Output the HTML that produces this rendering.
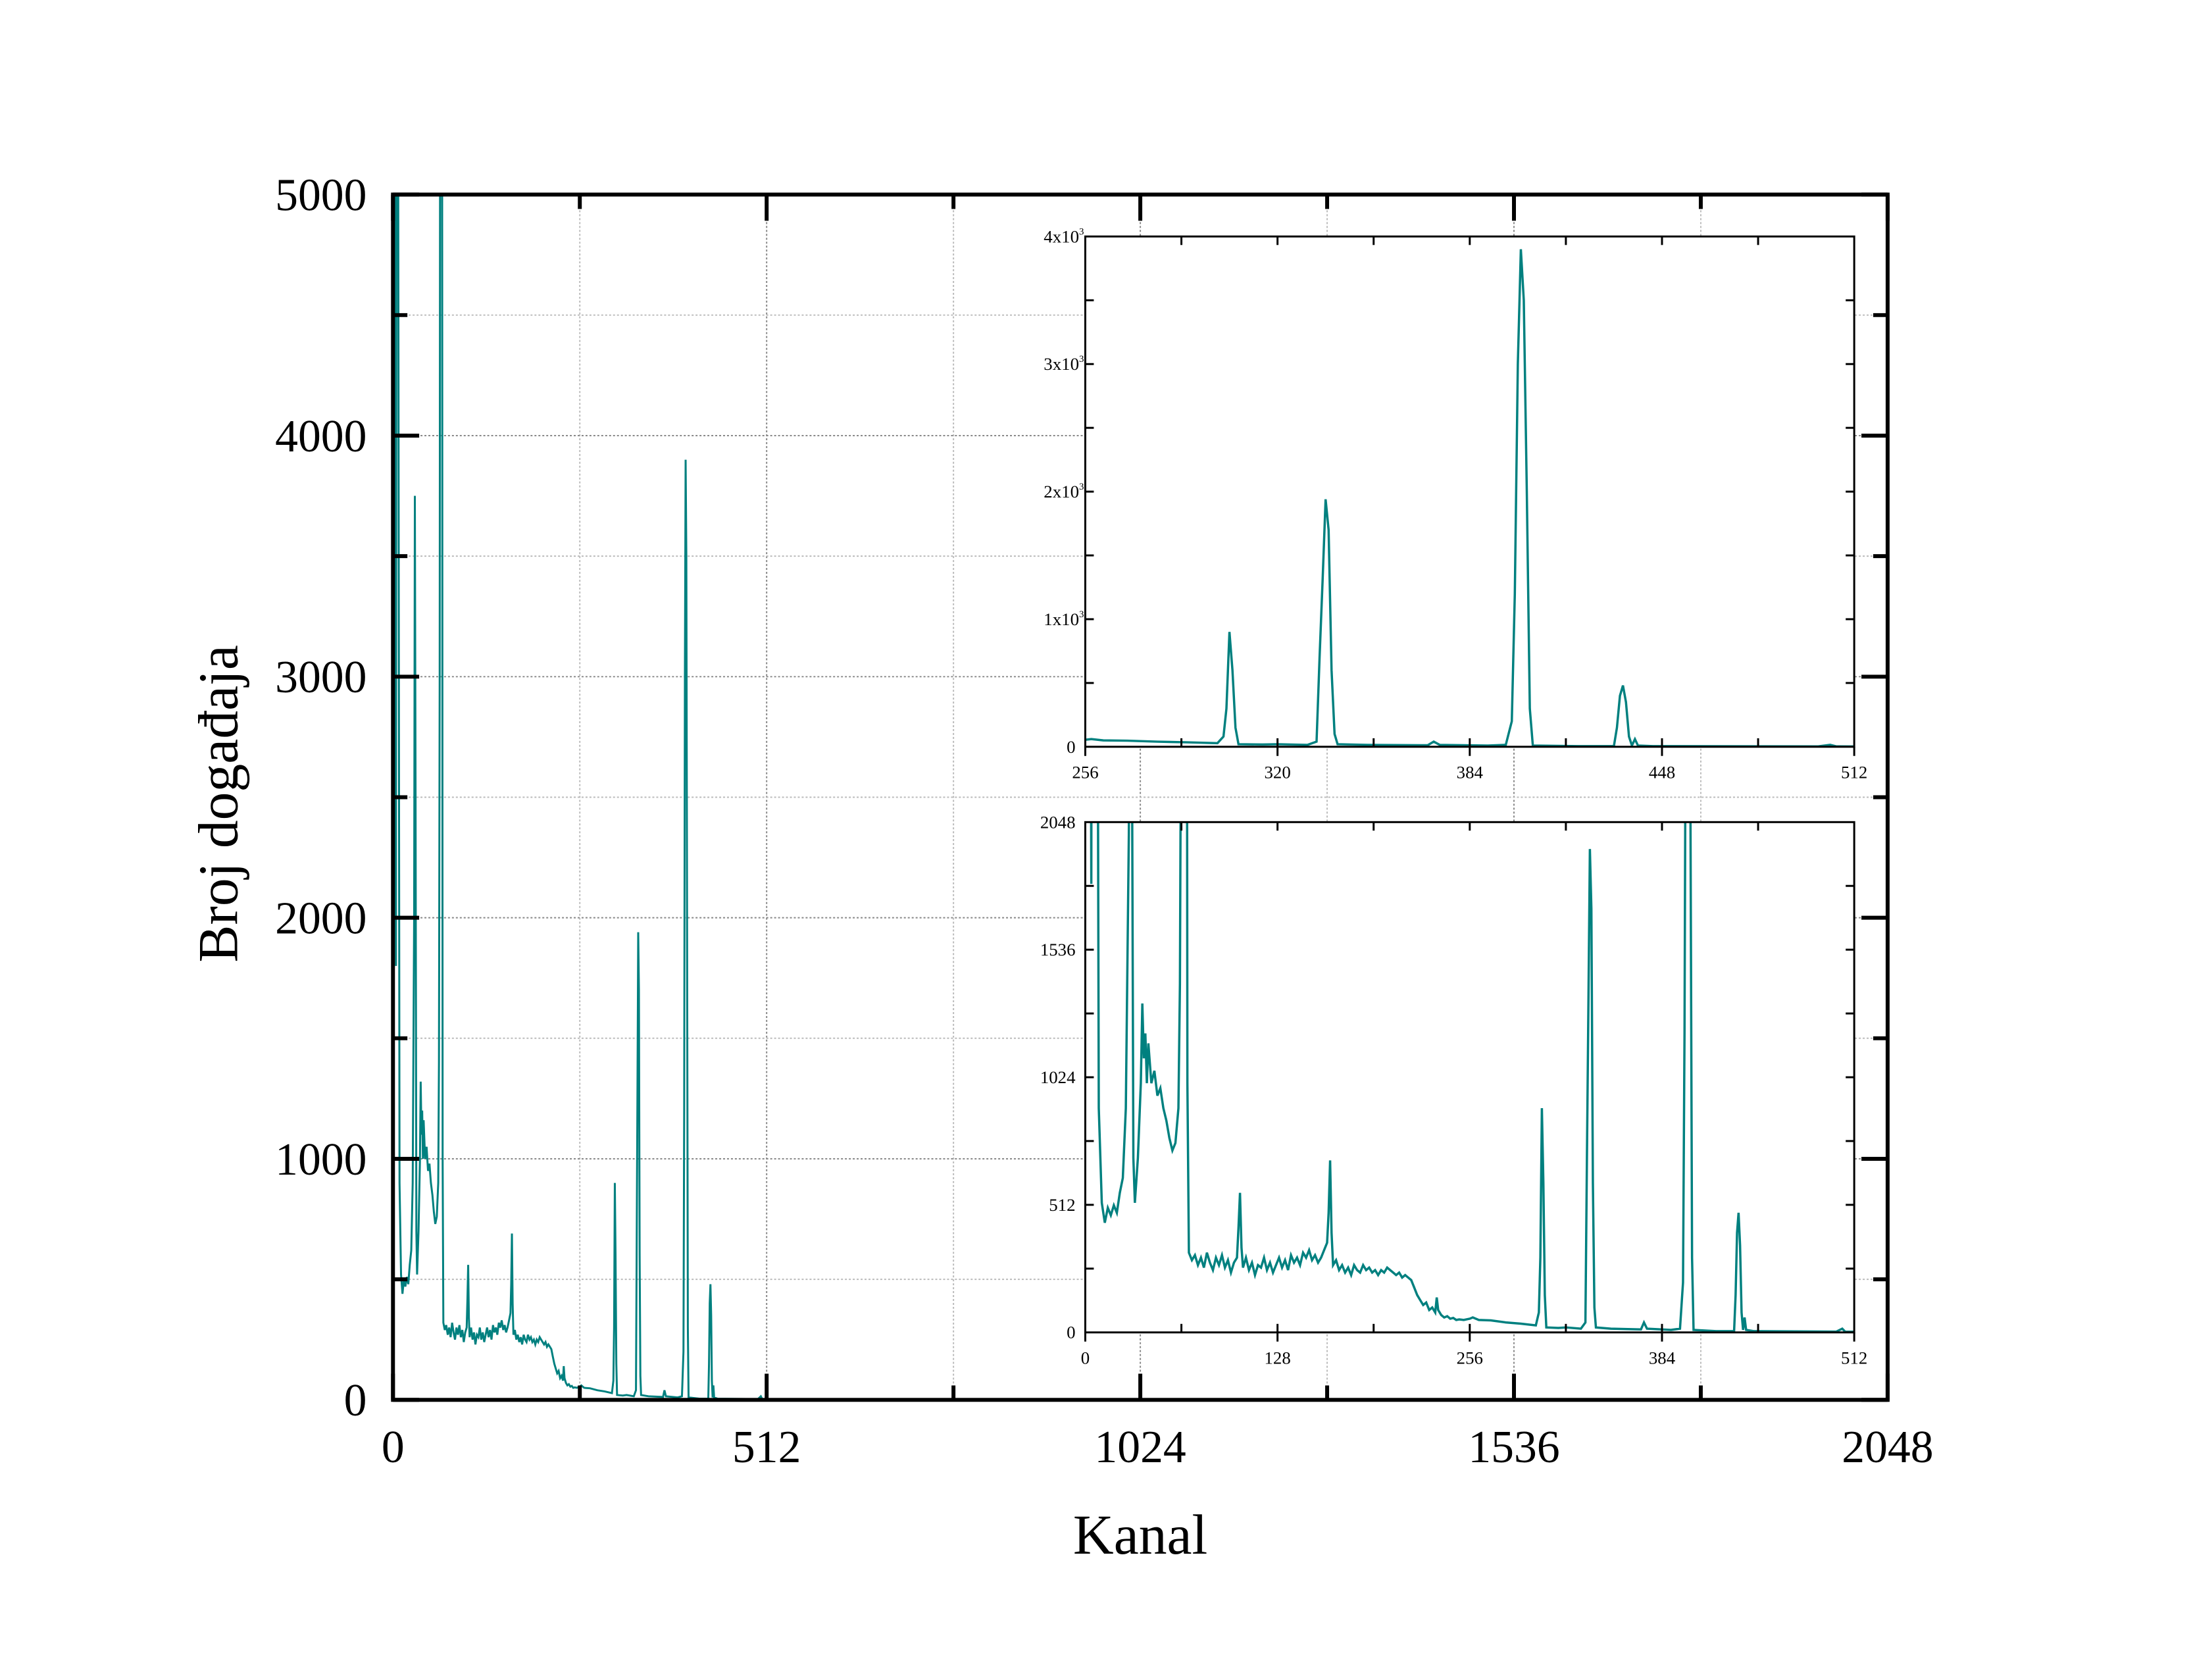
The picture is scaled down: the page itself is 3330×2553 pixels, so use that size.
<!DOCTYPE html>
<html><head><meta charset="utf-8"><style>
html,body{margin:0;padding:0;background:#fff;}
svg{display:block;font-family:"Liberation Serif",serif;}
</style></head><body>
<svg id="chart" width="3330" height="2553" viewBox="0 0 3330 2553" xmlns="http://www.w3.org/2000/svg">
<defs>
<clipPath id="cMain"><rect x="600" y="297" width="2282" height="1840"/></clipPath>
<clipPath id="cIn1"><rect x="1657" y="361" width="1174" height="779"/></clipPath>
<clipPath id="cIn2"><rect x="1657" y="1255" width="1174" height="779"/></clipPath>
</defs>
<g id="root" transform="scale(0.99546)"></g>
</svg>
<script>
// spectrum data: channel numbers and counts
const channels = [0,2,4,5,7,9,11,13,15,17,19,21,23,25,27,29,30,31,32,33,35,37,38,39,40,41,42,44,46,48,50,52,54,56,58,60,62,63,64,65,67,68,69,71,73,75,77,79,81,83,85,87,89,91,93,95,97,99,101,102,103,104,105,107,109,111,113,115,117,119,121,123,125,127,129,131,133,135,137,139,141,143,145,147,149,151,153,155,157,159,161,162,163,164,165,167,169,171,173,175,177,179,181,183,185,187,189,191,193,195,197,199,201,203,205,207,209,211,213,215,217,219,221,223,225,227,229,231,233,234,235,237,239,241,243,245,247,249,252,256,258,262,270,280,290,300,302,303,304,305,306,307,315,320,330,333,334,335,336,337,338,339,340,350,370,372,374,390,396,398,399,400,401,402,403,404,405,420,432,433,434,435,436,437,438,439,440,445,500,504,506,520,2048];
const counts = [5800,6000,1800,7000,5500,900,520,440,500,470,510,480,560,620,900,2000,3750,2500,700,520,700,1000,1320,1100,1200,1000,1160,1000,1050,950,980,900,850,780,730,760,900,1400,3000,7000,7000,1000,320,290,310,270,300,260,320,280,250,300,270,310,260,290,240,280,300,420,560,340,260,300,250,280,230,270,260,300,250,280,240,270,300,260,290,250,310,280,300,270,320,300,330,290,310,280,300,330,360,480,690,400,270,290,250,270,240,260,230,270,250,240,270,250,260,240,250,230,250,240,260,250,240,230,240,220,230,220,210,180,150,130,110,120,90,100,80,140,90,70,60,65,55,58,50,52,50,55,60,50,48,40,35,28,80,300,900,600,150,20,18,20,15,40,700,1300,1940,1700,600,100,20,15,12,40,15,10,15,200,1200,3000,3900,3500,2000,300,10,5,5,150,400,480,350,80,10,60,10,5,3,15,3,2,2];
// tick labels
const mainXTicks = [0,512,1024,1536,2048];
const mainYTicks = [0,1000,2000,3000,4000,5000];
const in1XTicks = [256,320,384,448,512];
const in1YTicks = [0,1000,2000,3000,4000];
const in2XTicks = [0,128,256,384,512];
const in2YTicks = [0,512,1024,1536,2048];

const NS="http://www.w3.org/2000/svg";
const root=document.getElementById('root');
function mk(tag,attrs,parent){const e=document.createElementNS(NS,tag);for(const k in attrs)e.setAttribute(k,attrs[k]);(parent||root).appendChild(e);return e;}

// axis functions
const mx=c=>600+c*2282/2048, my=v=>2137-v*1840/5000;
const ax1=c=>1657+(c-256)*1174/256, ay1=v=>1140-v*779/4000;
const ax2=c=>1657+c*1174/512, ay2=v=>2034-v*779/2048;

function pathFor(fx,fy){let d='';for(let i=0;i<channels.length;i++){d+=(i?'L':'M')+fx(channels[i]).toFixed(1)+' '+fy(counts[i]).toFixed(1);}return d;}

// main grid
for(let c=256;c<2048;c+=256){
  const l=mk('line',{x1:mx(c),x2:mx(c),y1:297,y2:2137,stroke:c%512===0?'#888':'#bbb','stroke-width':2,'stroke-dasharray':'3 3'});
  
  
}
for(let v=500;v<5000;v+=500){
  const l=mk('line',{x1:600,x2:2882,y1:my(v),y2:my(v),stroke:v%1000===0?'#888':'#bbb','stroke-width':2,'stroke-dasharray':'3 3'});
  
  
}
// main series
const ms=mk('path',{d:pathFor(mx,my),fill:'none',stroke:'#00807f','stroke-width':3,'clip-path':'url(#cMain)'});



// main frame & ticks
const mf=mk('rect',{x:600,y:297,width:2282,height:1840,fill:'none',stroke:'#000','stroke-width':6});


for(let c=0;c<=2048;c+=256){
  const L=c%512===0?40:22;
  mk('line',{x1:mx(c),x2:mx(c),y1:2137,y2:2137-L,stroke:'#000','stroke-width':6});
  mk('line',{x1:mx(c),x2:mx(c),y1:297,y2:297+L,stroke:'#000','stroke-width':6});
}
for(let v=0;v<=5000;v+=500){
  const L=v%1000===0?40:22;
  mk('line',{x1:600,x2:600+L,y1:my(v),y2:my(v),stroke:'#000','stroke-width':6});
  mk('line',{x1:2882,x2:2882-L,y1:my(v),y2:my(v),stroke:'#000','stroke-width':6});
}
mainXTicks.forEach(c=>{const t=mk('text',{x:mx(c),y:2232,'font-size':70,'text-anchor':'middle'});t.textContent=c;
  
  });
mainYTicks.forEach(v=>{const t=mk('text',{x:560,y:my(v)+24,'font-size':70,'text-anchor':'end'});t.textContent=v;
  
  });
const xt=mk('text',{x:1741,y:2372,'font-size':86,'text-anchor':'middle'});xt.textContent='Kanal';


const yt=mk('text',{x:0,y:0,'font-size':86,'text-anchor':'middle',transform:'translate(362,1227) rotate(-90)'});yt.textContent='Broj događaja';



// insets
function inset(name,top,fx,fy,clip,xTicks,xMinor,yVals,yMinor,yLabel){
  const g=mk('g',{});
  
  
  mk('rect',{x:1657,y:top,width:1174,height:779,fill:'#fff'},g);
  const p=mk('path',{d:pathFor(fx,fy),fill:'none',stroke:'#00807f','stroke-width':3.5,'clip-path':'url(#'+clip+')'},g);
  
  
  mk('rect',{x:1657,y:top,width:1174,height:779,fill:'none',stroke:'#000','stroke-width':3},g);
  const bot=top+779;
  xMinor.forEach(c=>{mk('line',{x1:fx(c),x2:fx(c),y1:bot,y2:bot-13,stroke:'#000','stroke-width':3},g);mk('line',{x1:fx(c),x2:fx(c),y1:top,y2:top+13,stroke:'#000','stroke-width':3},g);});
  yMinor.forEach(v=>{mk('line',{x1:1657,x2:1670,y1:fy(v),y2:fy(v),stroke:'#000','stroke-width':3},g);mk('line',{x1:2831,x2:2818,y1:fy(v),y2:fy(v),stroke:'#000','stroke-width':3},g);});
  xTicks.forEach(c=>{mk('line',{x1:fx(c),x2:fx(c),y1:bot,y2:bot+14,stroke:'#000','stroke-width':3},g);
    const t=mk('text',{x:fx(c),y:bot+48,'font-size':27,'text-anchor':'middle'},g);t.textContent=c;
    
    });
  yVals.forEach(v=>{const t=mk('text',{x:1642,y:fy(v)+9,'font-size':27,'text-anchor':'end'},g);
    const s=yLabel(v);
    if(s.sup){t.textContent=s.txt;const sp=mk('tspan',{'font-size':15,dy:-12},t);sp.textContent=s.sup;
      t.setAttribute('x',1655);}
    else t.textContent=s.txt;
    
    });
}
inset('inset-zoom-peaks',361,ax1,ay1,'cIn1',in1XTicks,[288,352,416,480,320,384,448],in1YTicks,[500,1000,1500,2000,2500,3000,3500],
  v=>v===0?{txt:'0'}:{txt:(v/1000)+'x10',sup:'3'});
inset('inset-low-channels',1255,ax2,ay2,'cIn2',in2XTicks,[64,128,192,256,320,384,448],in2YTicks,[256,512,768,1024,1280,1536,1792],v=>({txt:String(v)}));
</script>
</body></html>
